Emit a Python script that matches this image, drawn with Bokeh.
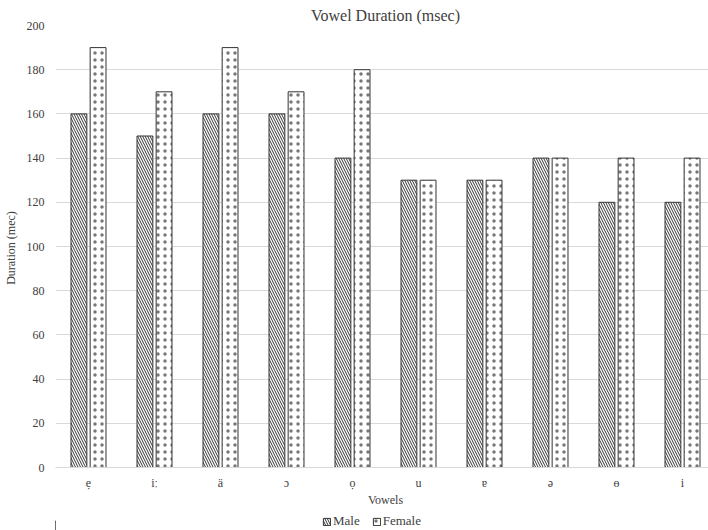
from bokeh.plotting import figure
from bokeh.layouts import column
from bokeh.models import ColumnDataSource, FactorRange, Legend, LegendItem, Range1d, SingleIntervalTicker
from bokeh.transform import dodge
from bokeh.embed import file_html
from bokeh.resources import INLINE

vowels = ["ẹ", "iː", "ä", "ɔ", "ọ", "u", "ɐ", "ə", "ɵ", "i"]
male = [160, 150, 160, 160, 140, 130, 130, 140, 120, 120]
female = [190, 170, 190, 170, 180, 130, 130, 140, 140, 140]
series_names = ["Male", "Female"]
title_text = "Vowel Duration (msec)"

src = ColumnDataSource(dict(vowel=vowels, male=male, female=female))

FONT = "Liberation Serif"
MALE_STYLE = dict(fill_color="white", line_color="#333333", line_width=1,
                  hatch_pattern="left_diagonal_line", hatch_color="#333333", hatch_scale=5, hatch_weight=1)
FEMALE_STYLE = dict(fill_color="white", line_color="#333333", line_width=1,
                    hatch_pattern="dot", hatch_color="#777777", hatch_scale=7, hatch_weight=0.35)

p = figure(x_range=FactorRange(*vowels), y_range=Range1d(0, 200),
           frame_width=660, frame_height=442, output_backend="svg", toolbar_location=None,
           title=title_text)
p.min_border_left = 37
p.min_border_right = 3
p.min_border_top = 25
p.min_border_bottom = 44

p.title.align = "center"
p.title.text_font = FONT
p.title.text_font_size = "16px"
p.title.text_font_style = "normal"
p.title.text_color = "#404040"
p.title.standoff = 4

p.vbar(x=dodge("vowel", -0.145, range=p.x_range), top="male", width=0.24, source=src, **MALE_STYLE)
p.vbar(x=dodge("vowel", 0.145, range=p.x_range), top="female", width=0.24, source=src, **FEMALE_STYLE)

p.outline_line_color = None
p.xgrid.grid_line_color = None
p.ygrid.grid_line_color = "#d9d9d9"
p.ygrid.grid_line_width = 1
p.yaxis.ticker = SingleIntervalTicker(interval=20)

for ax in (p.xaxis[0], p.yaxis[0]):
    ax.major_label_text_font = FONT
    ax.major_label_text_font_size = "12px"
    ax.major_label_text_color = "#404040"
    ax.axis_label_text_font = FONT
    ax.axis_label_text_font_size = "12px"
    ax.axis_label_text_font_style = "normal"
    ax.axis_label_text_color = "#404040"
    ax.major_tick_line_color = None
    ax.minor_tick_line_color = None

p.yaxis.axis_line_color = None
p.yaxis.axis_label = "Duration  (mec)"
p.yaxis.major_label_standoff = 5
p.yaxis.axis_label_standoff = 6
p.xaxis.axis_line_color = "#d9d9d9"
p.xaxis.axis_label = "Vowels"
p.xaxis.major_label_standoff = 2
p.xaxis.axis_label_standoff = 0

# legend strip below the chart (its bars lie outside the strip's visible range)
leg = figure(width=700, height=19, x_range=Range1d(0, 1), y_range=Range1d(0, 1),
             x_axis_type=None, y_axis_type=None, output_backend="svg", toolbar_location=None,
             min_border=0)
leg.outline_line_color = None
leg.xgrid.visible = False
leg.ygrid.visible = False
lr1 = leg.vbar(x=[-5], top=[0.5], width=0.1, **MALE_STYLE)
lr2 = leg.vbar(x=[-5], top=[0.5], width=0.1, **FEMALE_STYLE)
legend = Legend(items=[LegendItem(label=series_names[0], renderers=[lr1]),
                       LegendItem(label=series_names[1], renderers=[lr2])],
                orientation="horizontal", location=(267, 1),
                label_text_font=FONT, label_text_font_size="13px", label_text_color="#404040",
                glyph_width=9, glyph_height=9, spacing=12, label_standoff=2,
                padding=0, margin=0, border_line_color=None, background_fill_alpha=0,
                label_height=14)
leg.add_layout(legend, "center")

layout = column(p, leg, spacing=0)
open("out.html", "w").write(file_html(layout, INLINE))
